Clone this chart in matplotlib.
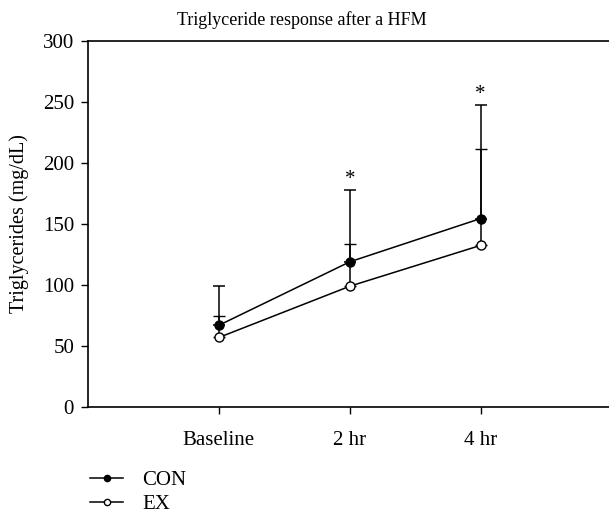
import matplotlib
matplotlib.use('Agg')
import matplotlib.pyplot as plt
from matplotlib.lines import Line2D

# dati
times = ['Baseline', '2 hr', '4 hr']
con_mean = [67, 119, 154.5]
con_err = [32, 59, 93]
ex_mean = [57, 99, 132.5]
ex_err = [18, 35, 79]
stars = [False, True, True]

plt.rcParams['font.family'] = ['Liberation Serif', 'DejaVu Serif']

fig = plt.figure(figsize=(6.09, 5.15), dpi=100)
ax = fig.add_axes([0.1445, 0.2097, 0.8555, 0.7107])

x = [1, 2, 3]
ax.errorbar(x, ex_mean, yerr=[[0] * 3, ex_err], color='black', lw=1.1,
            marker='o', ms=6.5, mfc='white', mec='black', mew=1.0,
            capsize=4.5, elinewidth=1.1, capthick=1.1, zorder=2)
ax.errorbar(x, con_mean, yerr=[[0] * 3, con_err], color='black', lw=1.1,
            marker='o', ms=6.5, mfc='black', mec='black',
            capsize=4.5, elinewidth=1.1, capthick=1.1, zorder=3)

for xi, m, e, s in zip(x, con_mean, con_err, stars):
    if s:
        ax.text(xi, m + e + 1, '*', ha='center', va='bottom', fontsize=15)

ax.set_xlim(0, 3.98)
ax.set_ylim(0, 300)
ax.set_yticks(range(0, 301, 50))
ax.set_xticks(x)
ax.set_xticklabels(times)
ax.tick_params(labelsize=15, direction='out', length=5, width=1)
ax.tick_params(axis='x', pad=12)
ax.tick_params(axis='y', pad=5)
ax.spines['right'].set_visible(False)
for s in ['left', 'bottom', 'top']:
    ax.spines[s].set_linewidth(1.2)
ax.set_ylabel('Triglycerides (mg/dL)', fontsize=14.5, labelpad=10)
fig.text(302 / 609, 1 - 20 / 515, 'Triglyceride response after a HFM',
         ha='center', va='center', fontsize=13)

handles = [
    Line2D([], [], color='black', lw=1.1, marker='o', ms=4.5, mfc='black', mec='black'),
    Line2D([], [], color='black', lw=1.1, marker='o', ms=4.5, mfc='white', mec='black'),
]
fig.legend(handles, ['CON', 'EX'], loc='upper left', bbox_to_anchor=(0.148, 0.086),
           frameon=False, fontsize=15, handlelength=1.6,
           labelspacing=0.2, handletextpad=0.9, borderpad=0, borderaxespad=0)

plt.savefig('out.png', dpi=100)
